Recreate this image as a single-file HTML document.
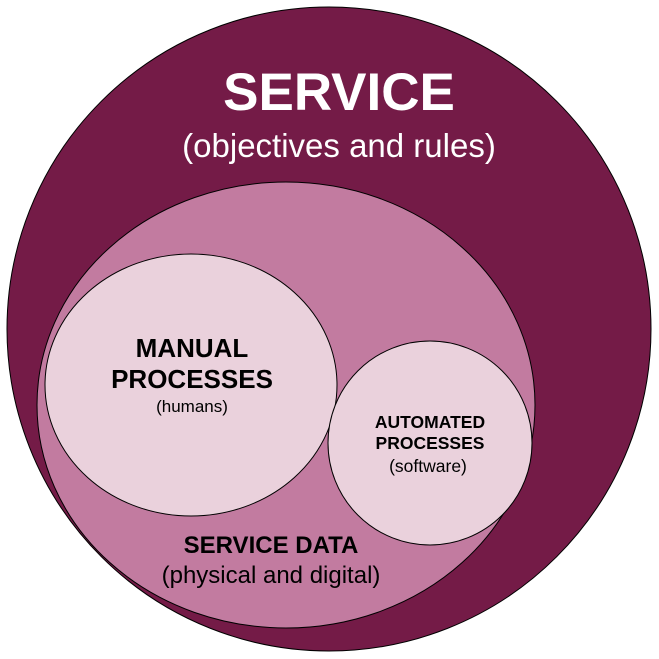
<!DOCTYPE html>
<html><head><meta charset="utf-8"><style>
html,body{margin:0;padding:0;background:#fff;}
svg{display:block;font-family:"Liberation Sans",Arial,sans-serif;}
</style></head><body>
<svg width="659" height="659" viewBox="0 0 659 659">
<circle cx="329" cy="329" r="322" fill="#741b47" stroke="#000" stroke-width="1"/>
<ellipse cx="286" cy="405" rx="249" ry="223" fill="#c27ba0" stroke="#000" stroke-width="1"/>
<ellipse cx="191" cy="385" rx="146" ry="131" fill="#ead1dc" stroke="#000" stroke-width="1"/>
<circle cx="430" cy="443" r="102" fill="#ead1dc" stroke="#000" stroke-width="1"/>
<text x="339" y="110" font-size="53" font-weight="bold" fill="#fff" text-anchor="middle">SERVICE</text>
<text x="339" y="157" font-size="33" fill="#fff" text-anchor="middle">(objectives and rules)</text>
<text x="192" y="357" font-size="26" font-weight="bold" fill="#000" text-anchor="middle">MANUAL</text>
<text x="192" y="388" font-size="26" font-weight="bold" fill="#000" text-anchor="middle">PROCESSES</text>
<text x="192" y="412" font-size="17" fill="#000" text-anchor="middle">(humans)</text>
<text x="430" y="428" font-size="17.5" font-weight="bold" fill="#000" text-anchor="middle">AUTOMATED</text>
<text x="430" y="449" font-size="17.5" font-weight="bold" fill="#000" text-anchor="middle">PROCESSES</text>
<text x="428" y="472" font-size="17.5" fill="#000" text-anchor="middle">(software)</text>
<text x="271" y="553" font-size="24" font-weight="bold" fill="#000" text-anchor="middle">SERVICE DATA</text>
<text x="271" y="583" font-size="24" fill="#000" text-anchor="middle">(physical and digital)</text>
</svg>
</body></html>
